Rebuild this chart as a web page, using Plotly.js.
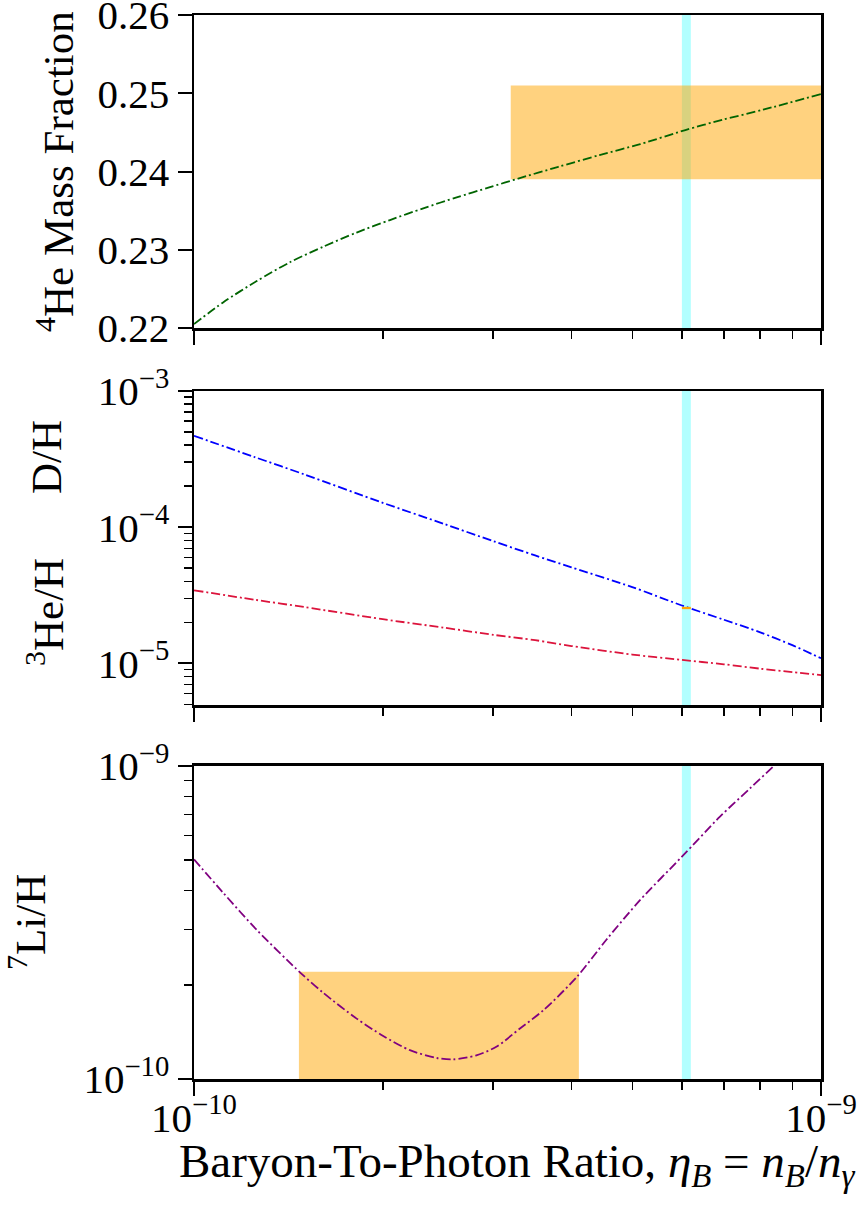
<!DOCTYPE html>
<html><head><meta charset="utf-8">
<script src="https://cdn.plot.ly/plotly-3.0.1.min.js"></script>
<style>html,body{margin:0;padding:0;background:#fff}#chart{width:865px;height:1205px}</style>
</head><body><div id="chart"></div>
<script>
// ---- data ----
const etaHe4 = [1.0e-10,1.114e-10,1.259e-10,1.422e-10,1.608e-10,1.817e-10,2.054e-10,2.321e-10,2.624e-10,2.965e-10,3.289e-10,3.811e-10,4.433e-10,5.149e-10,6.077e-10,6.955e-10,8.087e-10,1.0e-9];
const he4Mass = [0.2205,0.2233,0.2260,0.2284,0.2304,0.2322,0.2338,0.2353,0.2367,0.2380,0.2391,0.2406,0.2421,0.2435,0.2453,0.2466,0.2479,0.2499];
const eta = [1.0e-10,1.25e-10,1.5e-10,2.0e-10,2.5e-10,3.0e-10,3.5e-10,4.0e-10,5.0e-10,6.0e-10,7.0e-10,8.0e-10,9.0e-10,1.0e-9];
const dOverH = [4.69e-4,3.27e-4,2.44e-4,1.51e-4,1.06e-4,7.9e-5,6.2e-5,5.07e-5,3.63e-5,2.66e-5,2.09e-5,1.69e-5,1.36e-5,1.09e-5];
const he3OverH = [3.44e-5,2.93e-5,2.59e-5,2.11e-5,1.83e-5,1.62e-5,1.48e-5,1.34e-5,1.16e-5,1.06e-5,9.84e-6,9.14e-6,8.63e-6,8.2e-6];
const etaLi = [1.0e-10,1.11e-10,1.26e-10,1.48e-10,1.61e-10,1.82e-10,2.0e-10,2.21e-10,2.44e-10,2.59e-10,2.82e-10,3.04e-10,3.31e-10,3.61e-10,4.08e-10,4.55e-10,5.14e-10,6.0e-10,6.9e-10,7.71e-10,8.39e-10,9.0e-10,1.0e-9];
const li7OverH = [5.03e-10,3.96e-10,2.99e-10,2.18e-10,1.88e-10,1.556e-10,1.375e-10,1.236e-10,1.167e-10,1.155e-10,1.19e-10,1.27e-10,1.45e-10,1.66e-10,2.12e-10,2.79e-10,3.72e-10,5.13e-10,6.89e-10,8.49e-10,9.95e-10,1.13e-9,1.38e-9];

// observational / CMB bands
const planckEta = [6.0e-10, 6.2e-10];
const he4ObsEta = [3.2e-10, 1.0e-9];
const he4Obs = [0.239, 0.251];
const dObsEta = [6.0e-10, 6.2e-10];
const dObs = [2.50e-5, 2.60e-5];
const li7ObsEta = [1.47e-10, 4.11e-10];
const li7Obs = [1.0e-10, 2.2e-10];

// ticks
const xMajor = [1e-10, 1e-9];
const xMajorText = ['10<sup>\u221210</sup>', '10<sup>\u22129</sup>'];
const xMinor = [2e-10,3e-10,4e-10,5e-10,6e-10,7e-10,8e-10,9e-10];
const y1Ticks = [0.22,0.23,0.24,0.25,0.26];
const y1Text = ['0.22','0.23','0.24','0.25','0.26'];
const y2Major = [1e-5,1e-4,1e-3];
const y2Text = ['10<sup>\u22125</sup>','10<sup>\u22124</sup>','10<sup>\u22123</sup>'];
const y2Minor = [5e-6,6e-6,7e-6,8e-6,9e-6,2e-5,3e-5,4e-5,5e-5,6e-5,7e-5,8e-5,9e-5,2e-4,3e-4,4e-4,5e-4,6e-4,7e-4,8e-4,9e-4];
const y3Major = [1e-10,1e-9];
const y3Text = ['10<sup>\u221210</sup>','10<sup>\u22129</sup>'];
const y3Minor = [2e-10,3e-10,4e-10,5e-10,6e-10,7e-10,8e-10,9e-10];

// ---- styling ----
const FONT = 'Liberation Serif, Times New Roman, serif';
const DASH = '9px,3px,2px,3px';
const LW = 1.8;
const tickFont = {family: FONT, size: 41, color: '#000'};

function mkX(anchor, labels) {
  return {
    type: 'log', range: [-10, -9], anchor: anchor, domain: [0, 1],
    showline: true, mirror: true, linecolor: '#000', linewidth: 2.5,
    ticks: 'outside', ticklen: 14, tickwidth: 2, tickcolor: '#000',
    tickmode: 'array', tickvals: xMajor, ticktext: xMajorText,
    showticklabels: labels, tickfont: tickFont, ticklabeloverflow: 'allow',
    ticklabelstandoff: -13,
    showgrid: false, zeroline: false,
    minor: {tickmode: 'array', tickvals: xMinor, ticks: 'outside', ticklen: 8, tickwidth: 1.5, tickcolor: '#000', showgrid: false}
  };
}
function mkY(anchor, domain, type, range, vals, text, minor) {
  const a = {
    type: type, range: range, anchor: anchor, domain: domain,
    showline: true, mirror: true, linecolor: '#000', linewidth: 2.5,
    ticks: 'outside', ticklen: 14, tickwidth: 2, tickcolor: '#000',
    tickmode: 'array', tickvals: vals, ticktext: text, tickfont: tickFont,
    ticklabeloverflow: 'allow',
    showgrid: false, zeroline: false
  };
  if (minor) a.minor = {tickmode: 'array', tickvals: minor, ticks: 'outside', ticklen: 8, tickwidth: 1.5, tickcolor: '#000', showgrid: false};
  return a;
}

const lineStyle = c => ({color: c, width: LW, dash: DASH, shape: 'spline', smoothing: 0.8});
const traces = [
  {x: etaHe4, y: he4Mass, xaxis: 'x3', yaxis: 'y3', mode: 'lines', line: lineStyle('#006400'), hoverinfo: 'skip'},
  {x: eta, y: dOverH, xaxis: 'x2', yaxis: 'y2', mode: 'lines', line: lineStyle('#0000ff'), hoverinfo: 'skip'},
  {x: eta, y: he3OverH, xaxis: 'x2', yaxis: 'y2', mode: 'lines', line: lineStyle('#dc143c'), hoverinfo: 'skip'},
  {x: etaLi, y: li7OverH, xaxis: 'x', yaxis: 'y', mode: 'lines', line: lineStyle('#800080'), hoverinfo: 'skip'}
];

const ORANGE = 'rgba(255,165,0,0.5)';
const CYAN = 'rgba(0,255,255,0.3)';
const shapes = [
  {type: 'rect', xref: 'x3', yref: 'y3', x0: he4ObsEta[0], x1: he4ObsEta[1], y0: he4Obs[0], y1: he4Obs[1], fillcolor: ORANGE, line: {width: 0}, layer: 'below'},
  {type: 'rect', xref: 'x', yref: 'y', x0: li7ObsEta[0], x1: li7ObsEta[1], y0: li7Obs[0], y1: li7Obs[1], fillcolor: ORANGE, line: {width: 0}, layer: 'below'},
  {type: 'rect', xref: 'x3', yref: 'y3 domain', x0: planckEta[0], x1: planckEta[1], y0: 0, y1: 1, fillcolor: CYAN, line: {width: 0}, layer: 'below'},
  {type: 'rect', xref: 'x2', yref: 'y2 domain', x0: planckEta[0], x1: planckEta[1], y0: 0, y1: 1, fillcolor: CYAN, line: {width: 0}, layer: 'below'},
  {type: 'rect', xref: 'x', yref: 'y domain', x0: planckEta[0], x1: planckEta[1], y0: 0, y1: 1, fillcolor: CYAN, line: {width: 0}, layer: 'below'},
  {type: 'rect', xref: 'x2', yref: 'y2', x0: dObsEta[0], x1: dObsEta[1], y0: dObs[0], y1: dObs[1], fillcolor: 'rgb(255,165,0)', line: {width: 0}, layer: 'above'}
];

const titleFont = {family: FONT, size: 43, color: '#000'};
const annotations = [
  {text: '<sup>4</sup>He Mass Fraction', xref: 'paper', yref: 'paper', x: -0.2217, y: 0.8534, xanchor: 'center', yanchor: 'middle', textangle: -90, showarrow: false, font: titleFont},
  {text: 'D/H', xref: 'paper', yref: 'paper', x: -0.2344, y: 0.5846, xanchor: 'center', yanchor: 'middle', textangle: -90, showarrow: false, font: titleFont},
  {text: '<sup>3</sup>He/H', xref: 'paper', yref: 'paper', x: -0.2376, y: 0.4389, xanchor: 'center', yanchor: 'middle', textangle: -90, showarrow: false, font: titleFont},
  {text: '<sup>7</sup>Li/H', xref: 'paper', yref: 'paper', x: -0.2663, y: 0.1476, xanchor: 'center', yanchor: 'middle', textangle: -90, showarrow: false, font: titleFont},
  {text: 'Baryon-To-Photon Ratio, <i>\u03b7</i><sub><i>B</i></sub> = <i>n</i><sub><i>B</i></sub>/<i>n</i><sub><i>\u03b3</i></sub>', xref: 'paper', yref: 'paper', x: 0.515, y: -0.080, xanchor: 'center', yanchor: 'middle', showarrow: false, font: {family: FONT, size: 47, color: '#000'}}
];

const layout = {
  width: 865, height: 1205,
  margin: {l: 194, r: 44, t: 15, b: 126},
  paper_bgcolor: '#fff', plot_bgcolor: '#fff',
  showlegend: false,
  xaxis: mkX('y', true),
  xaxis2: mkX('y2', false),
  xaxis3: mkX('y3', false),
  yaxis: mkY('x', [0, 0.2942], 'log', [-10, -9], y3Major, y3Text, y3Minor),
  yaxis2: mkY('x2', [0.3515, 0.6466], 'log', [-5.306, -3], y2Major, y2Text, y2Minor),
  yaxis3: mkY('x3', [0.7058, 1], 'linear', [0.21999999, 0.26000001], y1Ticks, y1Text, null),
  shapes: shapes,
  annotations: annotations
};

Plotly.newPlot('chart', traces, layout, {displayModeBar: false, staticPlot: true});
</script>
</body></html>
